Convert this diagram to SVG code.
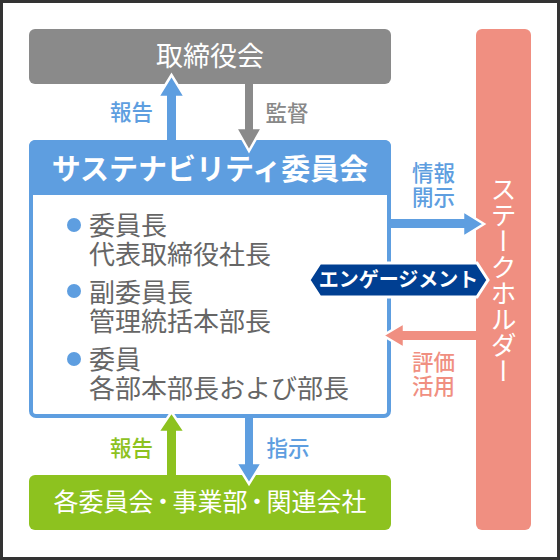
<svg xmlns="http://www.w3.org/2000/svg" width="560" height="560" viewBox="0 0 560 560">
<style>
text{font-family:"Noto Sans CJK JP","Noto Sans CJK SC",sans-serif;}
.w{fill:#fff;}
.body{fill:#666;font-size:26px;}
.lbl{font-size:21.5px;font-weight:500;text-anchor:middle;}
.mid{text-anchor:middle;}
.head{stroke:#fff;stroke-width:2.5;stroke-linejoin:miter;}
</style>
<rect x="1.5" y="1.5" width="557" height="557" fill="#fff" stroke="#333" stroke-width="3"/>
<g id="board">
<rect x="29" y="29" width="362" height="55" rx="6" fill="#8a8a8a"/>
<text class="w mid" x="210" y="65.5" font-size="27">取締役会</text>
</g>
<g id="stakeholder">
<rect x="476" y="29" width="55" height="501" rx="6" fill="#f08f81"/>
<text class="w" x="503.5" y="280" font-size="26" text-anchor="middle" style="writing-mode:vertical-rl">ステークホルダー</text>
</g>
<g id="committee">
<rect x="31" y="142" width="358" height="274" rx="5" fill="#fff" stroke="#5e9ee0" stroke-width="4"/>
<path d="M29 146 a6 6 0 0 1 6 -6 h350 a6 6 0 0 1 6 6 v49 h-362 z" fill="#5e9ee0"/>
<text class="w mid" x="210" y="180" font-size="29" font-weight="700">サステナビリティ委員会</text>
<circle cx="74" cy="225" r="7" fill="#5e9ee0"/>
<circle cx="74" cy="291" r="7" fill="#5e9ee0"/>
<circle cx="74" cy="359" r="7" fill="#5e9ee0"/>
<text class="body" x="89" y="235">委員長</text>
<text class="body" x="89" y="264">代表取締役社長</text>
<text class="body" x="89" y="302">副委員長</text>
<text class="body" x="89" y="331">管理統括本部長</text>
<text class="body" x="89" y="369">委員</text>
<text class="body" x="89" y="398">各部本部長および部長</text>
</g>
<g id="units">
<rect x="29" y="475" width="362" height="55" rx="6" fill="#8dc21f"/>
<text class="w mid" x="210" y="511" font-size="25">各委員会<tspan dx="-3">・</tspan><tspan dx="-3">事業部</tspan><tspan dx="-3">・</tspan><tspan dx="-3">関連会社</tspan></text>
</g>
<g id="connectors">
<polygon class="head" points="158,97 171.5,75 185,97" fill="#5e9ee0"/>
<rect x="167" y="95" width="9" height="45" fill="#5e9ee0"/>
<polygon class="head" points="236,128 249,151 262,128" fill="#8a8a8a"/>
<rect x="245" y="84" width="8" height="46" fill="#8a8a8a"/>
<polygon class="head" points="463,211 484,224 463,237" fill="#5e9ee0"/>
<rect x="391" y="219" width="74" height="9" fill="#5e9ee0"/>
<polygon class="head" points="404,323 383,335.5 404,348" fill="#f08f81"/>
<rect x="402" y="331" width="74" height="9" fill="#f08f81"/>
<polygon class="head" points="158,432 171.5,412 185,432" fill="#8dc21f"/>
<rect x="167" y="430" width="9" height="45" fill="#8dc21f"/>
<polygon class="head" points="236,463 249,484 262,463" fill="#5e9ee0"/>
<rect x="245" y="418" width="8" height="47" fill="#5e9ee0"/>
<text class="lbl" x="131.5" y="120" fill="#5e9ee0">報告</text>
<text class="lbl" x="287" y="120.5" fill="#888">監督</text>
<text class="lbl" x="433.5" y="180.5" fill="#5e9ee0">情報</text>
<text class="lbl" x="433.5" y="204.5" fill="#5e9ee0">開示</text>
<text class="lbl" x="433.5" y="369.5" fill="#f08f81">評価</text>
<text class="lbl" x="433.5" y="393.5" fill="#f08f81">活用</text>
<text class="lbl" x="131.5" y="455.5" fill="#8dc21f">報告</text>
<text class="lbl" x="288" y="455.5" fill="#5e9ee0">指示</text>
</g>
<g id="engagement">
<polygon points="309,280 320,263 477,263 488,280 477,297 320,297" fill="#003f92" stroke="#fff" stroke-width="3"/>
<text class="w mid" x="398.5" y="287" font-size="20" font-weight="700">エンゲージメント</text>
</g>
</svg>
